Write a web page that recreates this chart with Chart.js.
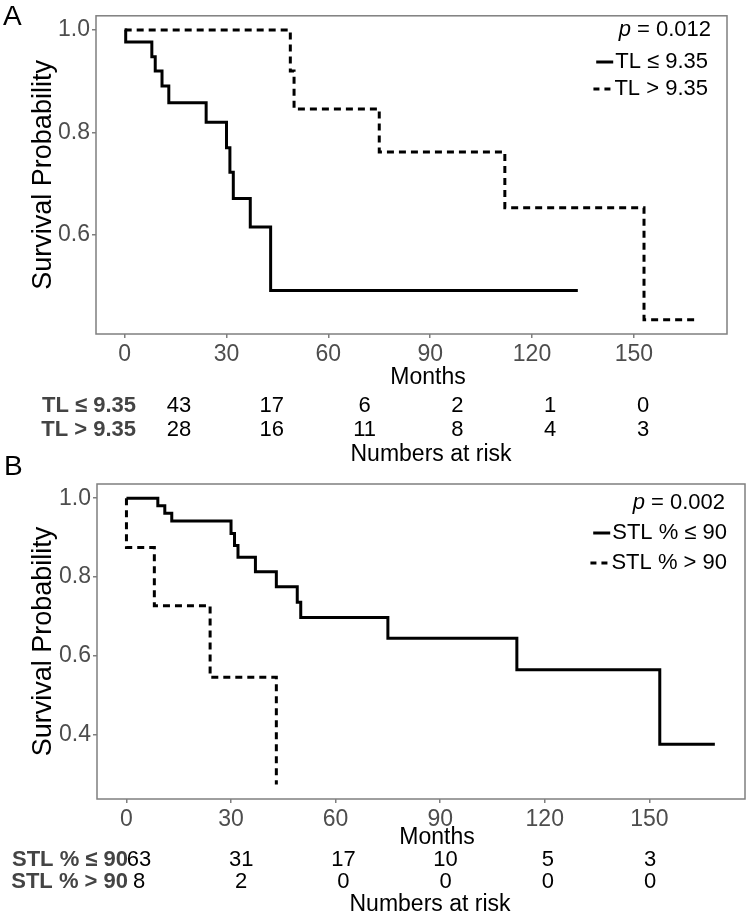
<!DOCTYPE html>
<html>
<head>
<meta charset="utf-8">
<script src="https://cdn.jsdelivr.net/npm/chart.js@4.4.1/dist/chart.umd.min.js"></script>
<style>
  html, body { margin: 0; padding: 0; background: #fff; }
  #fig { position: relative; width: 750px; height: 916px; }
  canvas { display: block; position: absolute; left: 0; }
  #kmA { top: 0; }
  #kmB { top: 440px; }
</style>
</head>
<body>
<div id="fig">
  <canvas id="kmA" width="750" height="470"></canvas>
  <canvas id="kmB" width="750" height="476"></canvas>
</div>
<script>
// ── data ──────────────────────────────────────────────────────
const monthTicks = [0, 30, 60, 90, 120, 150];
const survTicksA = [0.6, 0.8, 1.0];
const survTicksB = [0.4, 0.6, 0.8, 1.0];

// Panel A: telomere length (TL)
const tlGroups  = ['TL ≤ 9.35', 'TL > 9.35'];
const tlLowTime = [0, 0.3, 8, 9, 11, 13, 24, 30, 31, 32, 37, 43, 133.5];
const tlLowSurv = [1, 0.977, 0.948, 0.920, 0.891, 0.858, 0.820, 0.770, 0.722, 0.671, 0.615, 0.491, 0.491];
const tlHighTime = [0, 48.8, 49.9, 75, 112, 153, 168.5];
const tlHighSurv = [1, 0.920, 0.846, 0.762, 0.653, 0.434, 0.434];
const tlRiskLow  = [43, 17, 6, 2, 1, 0];
const tlRiskHigh = [28, 16, 11, 8, 4, 3];

// Panel B: short telomere load (STL %)
const stlGroups  = ['STL % ≤ 90', 'STL % > 90'];
const stlLowTime = [0, 9, 11, 13, 30, 31, 32, 37, 43, 49, 50, 75, 112, 153, 168.8];
const stlLowSurv = [1, 0.981, 0.962, 0.942, 0.910, 0.880, 0.850, 0.813, 0.775, 0.736, 0.697, 0.644, 0.564, 0.375, 0.375];
const stlHighTime = [0, 0, 8, 24, 43];
const stlHighSurv = [1, 0.875, 0.727, 0.545, 0.273];
const stlRiskLow  = [63, 31, 17, 10, 5, 3];
const stlRiskHigh = [8, 2, 0, 0, 0, 0];

const FONT = "'Liberation Sans', Arial, Helvetica, sans-serif";
const axisGrey = '#7f7f7f';
const labelGrey = '#4d4d4d';

/* ── drawing of frame, titles, legend and risk table ───────── */
function decor(cfg) {
    return {
        id: 'kmDecor',
        afterDatasetsDraw(chart) {
            const { ctx, chartArea: a } = chart;
            ctx.save();
            ctx.strokeStyle = axisGrey;
            ctx.lineWidth = 1.5;
            ctx.strokeRect(a.left, a.top, a.right - a.left, a.bottom - a.top);
            ctx.restore();
        },
        afterDraw(chart) {
            const { ctx, chartArea: a } = chart;
            ctx.save();
            ctx.fillStyle = '#000';
            ctx.textBaseline = 'middle';

            // panel letter
            ctx.font = `28px ${FONT}`;
            ctx.textAlign = 'left';
            ctx.fillText(cfg.letter, cfg.letterX, cfg.letterY);

            // y title
            ctx.save();
            ctx.translate(cfg.yTitleX, (a.top + a.bottom) / 2);
            ctx.rotate(-Math.PI / 2);
            ctx.textAlign = 'center';
            ctx.font = `27px ${FONT}`;
            ctx.fillText('Survival Probability', 0, 0);
            ctx.restore();

            // x title
            ctx.font = `23px ${FONT}`;
            ctx.textAlign = 'center';
            ctx.fillText('Months', cfg.xTitleX, cfg.xTitleY);

            // p value, italic p
            ctx.textAlign = 'left';
            ctx.font = `22px ${FONT}`;
            const wRest = ctx.measureText(cfg.pText).width;
            ctx.font = `italic 22px ${FONT}`;
            const wP = ctx.measureText('p').width;
            const px = cfg.pRight - wRest - wP;
            ctx.fillText('p', px, cfg.pY);
            ctx.font = `22px ${FONT}`;
            ctx.fillText(cfg.pText, px + wP, cfg.pY);

            // legend keys
            cfg.groups.forEach((g, i) => {
                const y = cfg.legendY[i];
                ctx.font = `22px ${FONT}`;
                ctx.textAlign = 'right';
                ctx.fillText(g, cfg.legendRight, y);
                const w = ctx.measureText(g).width;
                const kx = cfg.legendRight - w - (i ? 4 : 2);
                ctx.beginPath();
                ctx.setLineDash(i ? [6, 5] : []);
                ctx.lineWidth = 3;
                ctx.strokeStyle = '#000';
                ctx.moveTo(kx - 17, y);
                ctx.lineTo(kx, y);
                ctx.stroke();
            });
            ctx.setLineDash([]);

            // numbers at risk
            const span = monthTicks[monthTicks.length - 1] - monthTicks[0];
            const tx = t => cfg.tableX0 + (t - monthTicks[0]) * (cfg.tableXEnd - cfg.tableX0) / span;
            cfg.risk.forEach((row, i) => {
                const y = cfg.tableY[i];
                ctx.font = `bold 22px ${FONT}`;
                ctx.fillStyle = '#444';
                ctx.textAlign = 'right';
                ctx.fillText(cfg.groups[i], cfg.tableLabelRight, y);
                ctx.font = `22px ${FONT}`;
                ctx.fillStyle = '#000';
                ctx.textAlign = 'center';
                row.forEach((n, k) => ctx.fillText(String(n), tx(monthTicks[k]), y));
            });
            ctx.font = `23px ${FONT}`;
            ctx.textAlign = 'center';
            ctx.fillText('Numbers at risk', cfg.riskTitleX, cfg.riskTitleY);
            ctx.restore();
        },
    };
}

function kmChart(id, cfg) {
    return new Chart(document.getElementById(id), {
        type: 'line',
        data: {
            datasets: cfg.series.map((s, i) => ({
                data: s.time.map((t, k) => ({ x: t, y: s.surv[k] })),
                borderColor: '#000',
                borderWidth: 3,
                borderDash: i ? [7, 5] : [],
                borderCapStyle: 'butt',
                borderJoinStyle: 'miter',
                stepped: 'before',
                pointRadius: 0,
                fill: false,
            })),
        },
        options: {
            responsive: false,
            animation: false,
            devicePixelRatio: 1,
            layout: { padding: { left: 0, top: cfg.padTop, right: cfg.padRight, bottom: 0 } },
            plugins: { legend: { display: false }, tooltip: { enabled: false } },
            scales: {
                x: {
                    type: 'linear',
                    min: -8.45,
                    max: 177.45,
                    afterBuildTicks: s => { s.ticks = monthTicks.map(v => ({ value: v })); },
                    afterFit: s => { s.height = cfg.xAxisH; },
                    border: { display: false },
                    grid: { drawOnChartArea: false, drawTicks: true, tickLength: 4, color: axisGrey, lineWidth: 1.5 },
                    ticks: { font: { family: FONT, size: 23 }, color: labelGrey, padding: 3, maxRotation: 0, autoSkip: false },
                },
                y: {
                    type: 'linear',
                    min: cfg.yMin,
                    max: cfg.yMax,
                    afterBuildTicks: s => { s.ticks = cfg.yTicks.map(v => ({ value: v })); },
                    afterFit: s => { s.width = cfg.yAxisW; },
                    border: { display: false },
                    grid: { drawOnChartArea: false, drawTicks: true, tickLength: 4, color: axisGrey, lineWidth: 1.5 },
                    ticks: { font: { family: FONT, size: 23 }, color: labelGrey, padding: 2, callback: v => v.toFixed(1) },
                },
            },
        },
        plugins: [decor(cfg)],
    });
}

/* ── Panel A ─────────────────────────────────────────────── */
kmChart('kmA', {
    series: [{ time: tlLowTime, surv: tlLowSurv }, { time: tlHighTime, surv: tlHighSurv }],
    groups: tlGroups,
    risk: [tlRiskLow, tlRiskHigh],
    yMin: 0.406, yMax: 1.028, yTicks: survTicksA,
    padTop: 10, padRight: 23, yAxisW: 96, xAxisH: 136,
    letter: 'A', letterX: 3, letterY: 17,
    yTitleX: 44,
    xTitleX: 428, xTitleY: 378,
    pText: ' = 0.012', pRight: 711, pY: 30,
    legendRight: 708, legendY: [62, 89],
    tableX0: 179, tableXEnd: 643, tableY: [406, 430], tableLabelRight: 136,
    riskTitleX: 431, riskTitleY: 455,
});

/* ── Panel B (canvas starts at y = 440) ──────────────────── */
kmChart('kmB', {
    series: [{ time: stlLowTime, surv: stlLowSurv }, { time: stlHighTime, surv: stlHighSurv }],
    groups: stlGroups,
    risk: [stlRiskLow, stlRiskHigh],
    yMin: 0.236, yMax: 1.036, yTicks: survTicksB,
    padTop: 44, padRight: 5, yAxisW: 97, xAxisH: 117,
    letter: 'B', letterX: 4, letterY: 27,
    yTitleX: 44,
    xTitleX: 437, xTitleY: 398,
    pText: ' = 0.002', pRight: 725, pY: 63,
    legendRight: 727, legendY: [93, 123],
    tableX0: 139, tableXEnd: 650, tableY: [420, 442], tableLabelRight: 128,
    riskTitleX: 430, riskTitleY: 465,
});
</script>
</body>
</html>
